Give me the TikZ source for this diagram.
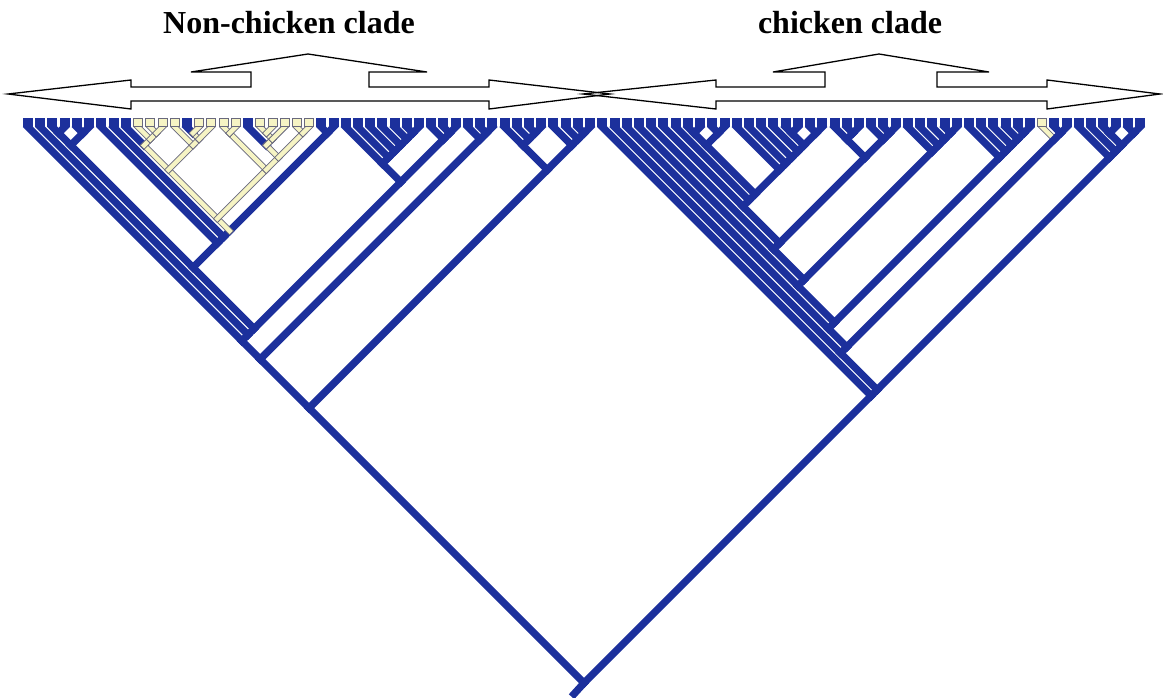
\documentclass[tikz,border=0pt]{standalone}
\usepackage{fontspec}
\setmainfont{Liberation Serif}
\definecolor{tb}{RGB}{28,48,156}
\definecolor{ty}{RGB}{246,244,196}
\definecolor{tg}{RGB}{105,105,125}
\tikzset{
 bl/.style={draw=tb, line width=7.3pt, line cap=rect},
 ye/.style={draw=tg, line width=0.9pt, double=ty, double distance=4.4pt, line cap=rect},
 lfb/.style={rectangle, fill=tb, minimum width=10pt, minimum height=9pt, inner sep=0pt, anchor=south},
 lfy/.style={rectangle, fill=ty, draw=tg, line width=0.8pt, minimum width=9pt, minimum height=8pt, inner sep=0pt, anchor=south},
 ttl/.style={font=\bfseries\fontsize{32}{36}\selectfont, anchor=base, inner sep=0pt},
 arr/.style={draw=black, line width=1.3pt, line join=miter},
}
\newcommand\clade[3]{\coordinate (#1) at ({28+12.22*(#2+#3)/2},{127+12.22*(#3-#2)/2});}
\newcommand\br[2]{\draw[bl] (#1) -- (#2);}
\newcommand\bry[2]{\draw[ye] (#1) -- (#2);}
\begin{document}
\begin{tikzpicture}[x=1pt,y=-1pt]
\useasboundingbox (0,0) rectangle (1163,698);
\fill[white] (0,0) rectangle (1163,698);
\foreach \i in {0,...,91} {\coordinate (l\i) at ({28+12.22*\i},127);}
% titles
\node[ttl] (t1) at (289,34) {Non-chicken clade};
\node[ttl] (t2) at (850,34) {chicken clade};
% arrows
\draw[arr] (8,94) -- (131,80) -- (131,87) -- (251,87) -- (251,72) -- (191,72) -- (308,54) -- (427,72) -- (369,72) -- (369,87) -- (489,87) -- (489,80) -- (610,94) -- (489,109) -- (489,101) -- (131,101) -- (131,109) -- cycle;
\draw[arr] (583,94) -- (716,80) -- (716,87) -- (825,87) -- (825,72) -- (773,72) -- (879,54) -- (989,72) -- (937,72) -- (937,87) -- (1047,87) -- (1047,80) -- (1160,94) -- (1047,109) -- (1047,101) -- (716,101) -- (716,109) -- cycle;
% ---------- tree ----------
\clade{ROOT}{0}{91}\clade{L}{0}{46}\clade{R}{47}{91}
\coordinate (stem) at (574,694);
\br{ROOT}{stem}
\br{ROOT}{L}\br{ROOT}{R}
% ===== left clade =====
\clade{A038}{0}{38}\clade{B}{39}{46}
\br{L}{A038}\br{L}{B}
\clade{A035}{0}{35}\clade{A3638}{36}{38}
\br{A038}{A035}\br{A038}{A3638}
\clade{A135}{1}{35}
\br{A035}{l0}\br{A035}{A135}
\clade{A235}{2}{35}
\br{A135}{l1}\br{A135}{A235}
\clade{A225}{2}{25}\clade{A2635}{26}{35}
\br{A235}{A225}\br{A235}{A2635}
\clade{A25}{2}{5}\clade{A625}{6}{25}
\br{A225}{A25}\br{A225}{A625}
\clade{A23}{2}{3}\clade{A45}{4}{5}
\br{A25}{A23}\br{A25}{A45}
\br{A23}{l2}\br{A23}{l3}\br{A45}{l4}\br{A45}{l5}
\clade{A725}{7}{25}
\br{A625}{l6}\br{A625}{A725}
\clade{A825}{8}{25}
\br{A725}{l7}\br{A725}{A825}
\clade{P}{8}{23}\clade{A2425}{24}{25}
\br{A825}{A2425}\br{A2425}{l24}\br{A2425}{l25}
% yellow part 8..23
\clade{C1}{8}{15}\clade{C2}{16}{23}
\clade{C811}{8}{11}\clade{C911}{9}{11}\clade{C1011}{10}{11}
\clade{C1215}{12}{15}\clade{C1315}{13}{15}\clade{C1314}{13}{14}
\clade{C1617}{16}{17}\clade{C1823}{18}{23}\clade{C1821}{18}{21}\clade{C1921}{19}{21}\clade{C1920}{19}{20}\clade{C2223}{22}{23}
\br{C811}{l8}\br{C1314}{l13}\br{C1821}{l18}
\bry{A825}{P}\bry{P}{C1}\bry{P}{C2}
\bry{C1}{C811}\bry{C1}{C1215}
\bry{C811}{C911}\bry{C911}{l9}\bry{C911}{C1011}\bry{C1011}{l10}\bry{C1011}{l11}
\bry{C1215}{l12}\bry{C1215}{C1315}\bry{C1315}{C1314}\bry{C1315}{l15}\bry{C1314}{l14}
\bry{C2}{C1617}\bry{C2}{C1823}\bry{C1617}{l16}\bry{C1617}{l17}
\bry{C1823}{C1821}\bry{C1823}{C2223}\bry{C1821}{C1921}\bry{C1921}{C1920}\bry{C1921}{l21}
\bry{C1920}{l19}\bry{C1920}{l20}\bry{C2223}{l22}\bry{C2223}{l23}
% 26..35
\clade{A2632}{26}{32}\clade{A3335}{33}{35}
\br{A2635}{A2632}\br{A2635}{A3335}
\clade{A2732}{27}{32}\clade{A2832}{28}{32}\clade{A2932}{29}{32}\clade{A3032}{30}{32}\clade{A3132}{31}{32}
\br{A2632}{l26}\br{A2632}{A2732}
\br{A2732}{l27}\br{A2732}{A2832}\br{A2832}{l28}\br{A2832}{A2932}\br{A2932}{l29}\br{A2932}{A3032}
\br{A3032}{l30}\br{A3032}{A3132}\br{A3132}{l31}\br{A3132}{l32}
\clade{A3435}{34}{35}
\br{A3335}{l33}\br{A3335}{A3435}\br{A3435}{l34}\br{A3435}{l35}
\clade{A3738}{37}{38}
\br{A3638}{l36}\br{A3638}{A3738}\br{A3738}{l37}\br{A3738}{l38}
% B
\clade{B3942}{39}{42}\clade{B4346}{43}{46}
\br{B}{B3942}\br{B}{B4346}
\clade{B4042}{40}{42}\clade{B4142}{41}{42}
\br{B3942}{l39}\br{B3942}{B4042}\br{B4042}{l40}\br{B4042}{B4142}\br{B4142}{l41}\br{B4142}{l42}
\clade{B4446}{44}{46}\clade{B4546}{45}{46}
\br{B4346}{l43}\br{B4346}{B4446}\br{B4446}{l44}\br{B4446}{B4546}\br{B4546}{l45}\br{B4546}{l46}
% ===== right clade (chicken) =====
\clade{U47}{48}{91}\clade{T48}{48}{85}\clade{S47}{86}{91}
\br{R}{l47}\br{R}{U47}\br{U47}{T48}\br{U47}{S47}
\clade{U48}{49}{85}\clade{T49}{49}{82}\clade{S48}{83}{85}
\br{T48}{l48}\br{T48}{U48}\br{U48}{T49}\br{U48}{S48}
\clade{U49}{50}{82}\clade{T50}{50}{76}\clade{S49}{77}{82}
\br{T49}{l49}\br{T49}{U49}\br{U49}{T50}\br{U49}{S49}
\clade{U50}{51}{76}\clade{T51}{51}{71}\clade{S50}{72}{76}
\br{T50}{l50}\br{T50}{U50}\br{U50}{T51}\br{U50}{S50}
\clade{U51}{52}{71}\clade{T52}{52}{65}\clade{S51}{66}{71}
\br{T51}{l51}\br{T51}{U51}\br{U51}{T52}\br{U51}{S51}
\clade{T53}{53}{65}\clade{T54}{54}{65}
\br{T52}{l52}\br{T52}{T53}\br{T53}{l53}\br{T53}{T54}
\clade{C5457}{54}{57}\clade{C5865}{58}{65}
\br{T54}{C5457}\br{T54}{C5865}
\clade{C5455}{54}{55}\clade{C5657}{56}{57}
\br{C5457}{C5455}\br{C5457}{C5657}\br{C5455}{l54}\br{C5455}{l55}\br{C5657}{l56}\br{C5657}{l57}
\clade{C5965}{59}{65}\clade{C6065}{60}{65}\clade{C6165}{61}{65}\clade{C6265}{62}{65}\clade{C6263}{62}{63}\clade{C6465}{64}{65}
\br{C5865}{l58}\br{C5865}{C5965}\br{C5965}{l59}\br{C5965}{C6065}\br{C6065}{l60}\br{C6065}{C6165}
\br{C6165}{l61}\br{C6165}{C6265}\br{C6265}{C6263}\br{C6265}{C6465}
\br{C6263}{l62}\br{C6263}{l63}\br{C6465}{l64}\br{C6465}{l65}
% S51 66..71
\clade{C6668}{66}{68}\clade{C6971}{69}{71}\clade{C6768}{67}{68}\clade{C7071}{70}{71}
\br{S51}{C6668}\br{S51}{C6971}
\br{C6668}{l66}\br{C6668}{C6768}\br{C6768}{l67}\br{C6768}{l68}
\br{C6971}{l69}\br{C6971}{C7071}\br{C7071}{l70}\br{C7071}{l71}
% S50 72..76
\clade{C7376}{73}{76}\clade{C7476}{74}{76}\clade{C7576}{75}{76}
\br{S50}{l72}\br{S50}{C7376}\br{C7376}{l73}\br{C7376}{C7476}\br{C7476}{l74}\br{C7476}{C7576}\br{C7576}{l75}\br{C7576}{l76}
% S49 77..82
\clade{C7882}{78}{82}\clade{C7982}{79}{82}\clade{C8082}{80}{82}\clade{C8182}{81}{82}
\br{S49}{l77}\br{S49}{C7882}\br{C7882}{l78}\br{C7882}{C7982}\br{C7982}{l79}\br{C7982}{C8082}
\br{C8082}{l80}\br{C8082}{C8182}\br{C8182}{l81}\br{C8182}{l82}
% S48 83..85
\clade{C8485}{84}{85}
\bry{S48}{l83}\br{S48}{C8485}\br{C8485}{l84}\br{C8485}{l85}
% S47 86..91
\clade{C8791}{87}{91}\clade{C8891}{88}{91}\clade{C8889}{88}{89}\clade{C9091}{90}{91}
\br{S47}{l86}\br{S47}{C8791}\br{C8791}{l87}\br{C8791}{C8891}\br{C8891}{C8889}\br{C8891}{C9091}
\br{C8889}{l88}\br{C8889}{l89}\br{C9091}{l90}\br{C9091}{l91}
% leaves
\foreach \i in {0,...,8,13,18,24,25,...,82,84,85,...,91} {\node[lfb] (s\i) at (l\i) {};}
\foreach \i in {9,10,11,12,14,15,16,17,19,20,21,22,23,83} {\node[lfy] (s\i) at (l\i) {};}
\end{tikzpicture}
\end{document}
